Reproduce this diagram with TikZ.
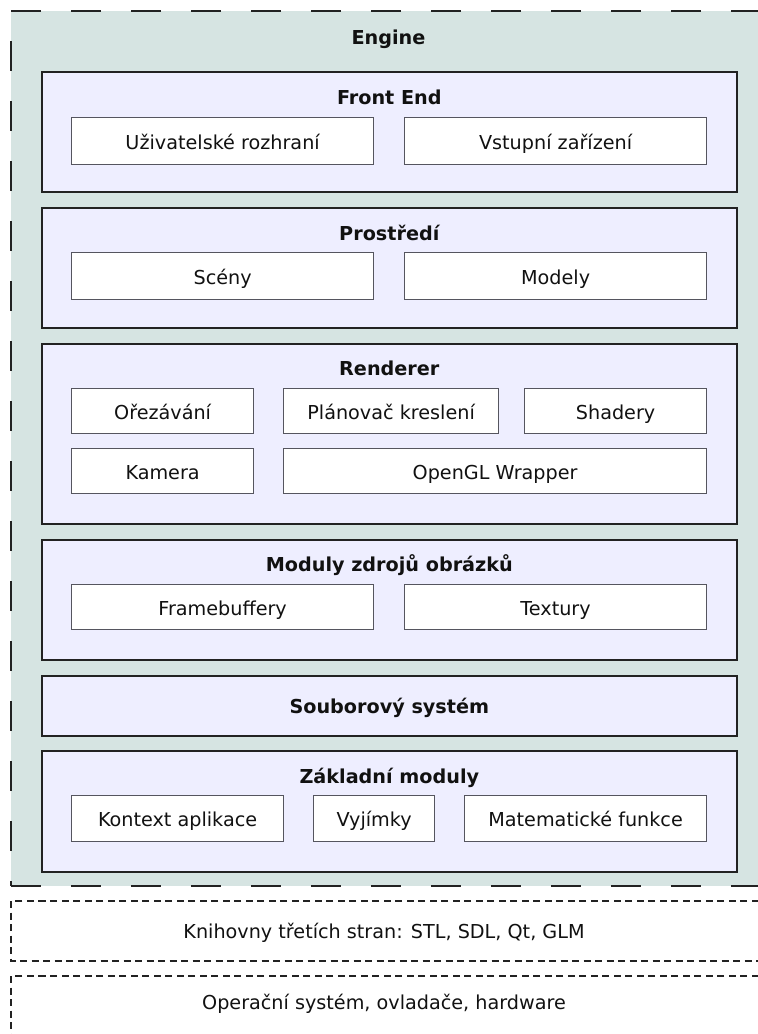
\documentclass[tikz,border=0pt]{standalone}
\usepackage{fontspec}
\setmainfont{DejaVu Sans}
\definecolor{enginefill}{RGB}{214,228,226}
\definecolor{panelfill}{RGB}{238,238,255}
\definecolor{panelline}{RGB}{34,34,34}
\definecolor{itemline}{RGB}{85,85,95}
\definecolor{txt}{RGB}{17,17,17}
\tikzset{
  bigdash/.style={draw=panelline, line width=2pt, dash pattern=on 30pt off 30pt},
  smalldash/.style={draw=panelline, line width=1.5pt, dash pattern=on 7pt off 4.5pt},
  basefont/.style={font=\fontsize{19.2}{23}\selectfont, text=txt, text height=16pt, text depth=0pt, inner sep=0pt},
  titletext/.style={basefont, font=\bfseries\fontsize{19.2}{23}\selectfont},
  plaintext/.style={basefont},
  panel/.style={draw=panelline, fill=panelfill, line width=1.6pt, anchor=north west, inner sep=0pt},
  item/.style={basefont, draw=itemline, fill=white, line width=1.2pt, anchor=north west},
}
\begin{document}
\begin{tikzpicture}[x=1pt,y=-1pt]
\useasboundingbox (0,0) rectangle (758,1034);
\clip (0,0) rectangle (758,1034);

% Engine container
\fill[enginefill] (11,11) rectangle (766,886);
\draw[bigdash] (11,11) -- (766,11);
\draw[bigdash] (11,886) -- (766,886);
\draw[bigdash, dash phase=30pt] (11,11) -- (11,886);
\node[titletext] (engine) at (388.5,36) {Engine};

% Front End
\node[panel, minimum width=695, minimum height=120] (fe) at (41,71) {};
\node[titletext] (fet) at ([yshift=-25pt]fe.north) {Front End};
\node[item, minimum width=302, minimum height=47] (ui) at (71,117) {Uživatelské rozhraní};
\node[item, minimum width=302, minimum height=47] (vz) at (404,117) {Vstupní zařízení};

% Prostredi
\node[panel, minimum width=695, minimum height=120] (pr) at (41,207) {};
\node[titletext] (prt) at ([yshift=-25pt]pr.north) {Prostředí};
\node[item, minimum width=302, minimum height=47] (sc) at (71,252) {Scény};
\node[item, minimum width=302, minimum height=47] (mo) at (404,252) {Modely};

% Renderer
\node[panel, minimum width=695, minimum height=180] (re) at (41,343) {};
\node[titletext] (ret) at ([yshift=-24pt]re.north) {Renderer};
\node[item, minimum width=182, minimum height=45] (or) at (71,388) {Ořezávání};
\node[item, minimum width=215, minimum height=45] (pk) at (283,388) {Plánovač kreslení};
\node[item, minimum width=182, minimum height=45] (sh) at (524,388) {Shadery};
\node[item, minimum width=182, minimum height=45] (ka) at (71,448) {Kamera};
\node[item, minimum width=423, minimum height=45] (gl) at (283,448) {OpenGL Wrapper};

% Moduly zdroju obrazku
\node[panel, minimum width=695, minimum height=120] (mz) at (41,539) {};
\node[titletext] (mzt) at ([yshift=-24pt]mz.north) {Moduly zdrojů obrázků};
\node[item, minimum width=302, minimum height=45] (fb) at (71,584) {Framebuffery};
\node[item, minimum width=302, minimum height=45] (tx) at (404,584) {Textury};

% Souborovy system
\node[panel, minimum width=695, minimum height=60] (ss) at (41,675) {};
\node[titletext] (sst) at (ss.center) {Souborový systém};

% Zakladni moduly
\node[panel, minimum width=695, minimum height=121] (zm) at (41,750) {};
\node[titletext] (zmt) at ([yshift=-25pt]zm.north) {Základní moduly};
\node[item, minimum width=212, minimum height=46] (ka2) at (71,795) {Kontext aplikace};
\node[item, minimum width=121, minimum height=46] (vy) at (313,795) {Vyjímky};
\node[item, minimum width=242, minimum height=46] (mf) at (464,795) {Matematické funkce};

% Lower layers
\draw[smalldash] (770,901) -- (11,901) -- (11,961) -- (770,961);
\node[plaintext] (kn) at (384,930) {Knihovny třetích stran: STL, SDL, Qt, GLM};
\draw[smalldash] (770,976) -- (11,976) -- (11,1040);
\node[plaintext] (os) at (384,1001) {Operační systém, ovladače, hardware};
\end{tikzpicture}
\end{document}
